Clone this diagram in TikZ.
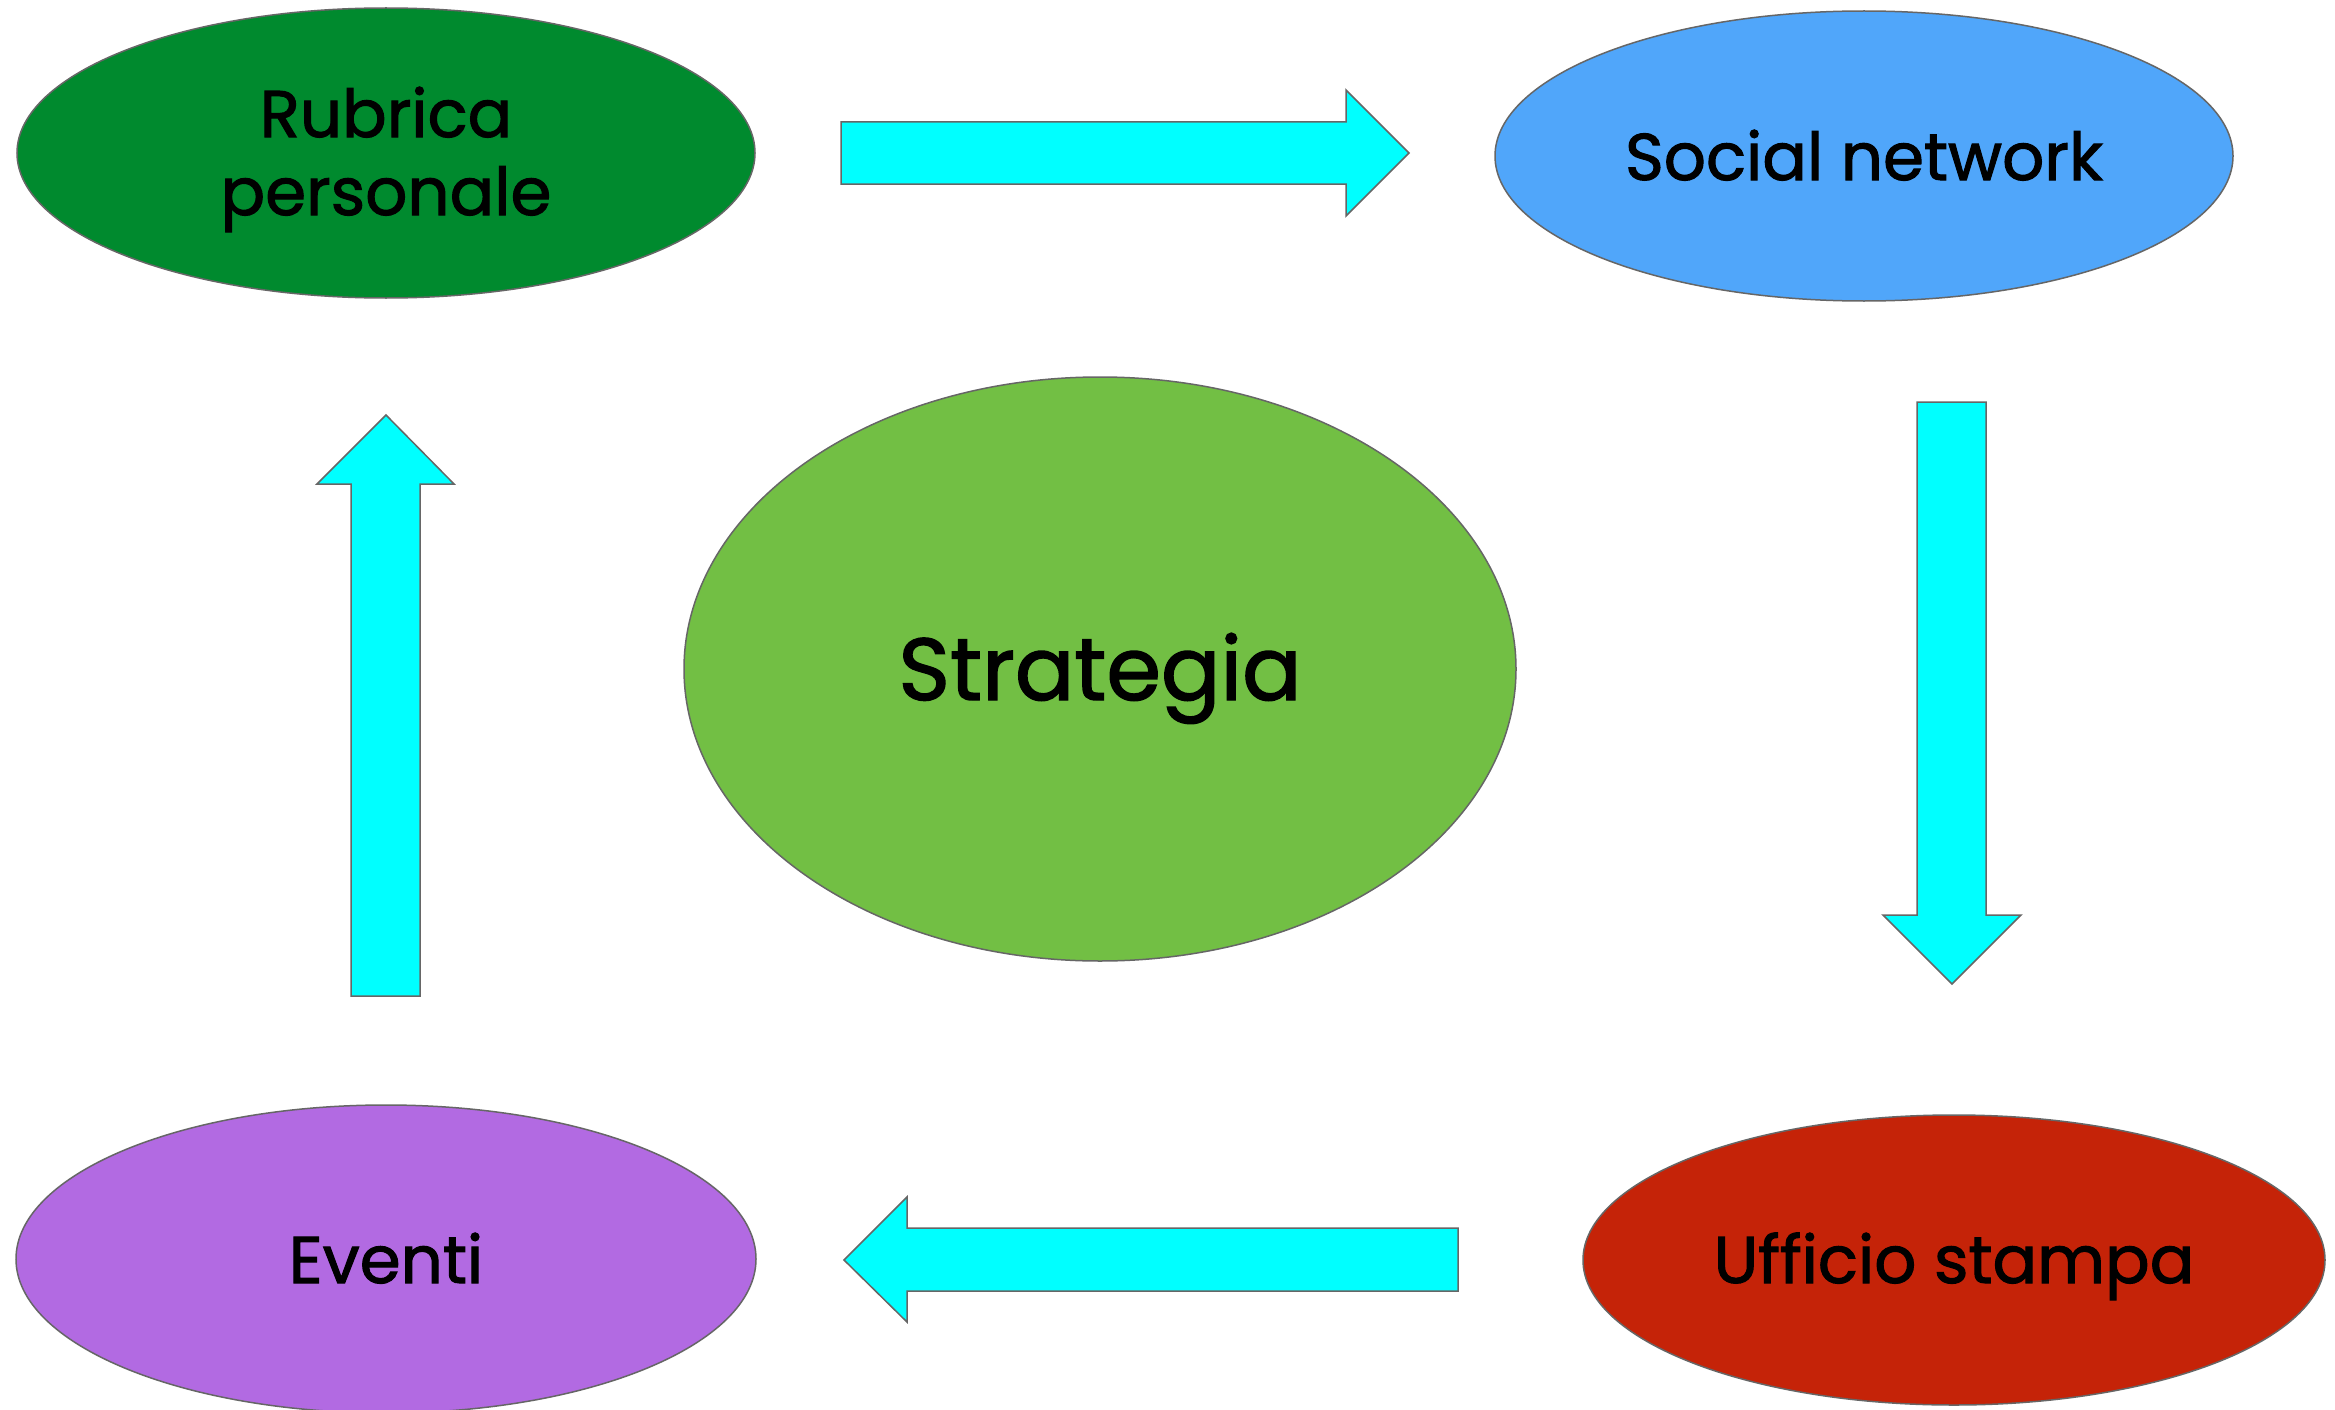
\documentclass[tikz,border=0pt]{standalone}
\usepackage{fontspec}
\setmainfont{Poppins}[FakeBold=1.6]
\usetikzlibrary{shapes.geometric}
\definecolor{cgreen}{RGB}{0,138,46}
\definecolor{cblue}{RGB}{80,166,250}
\definecolor{clime}{RGB}{114,191,68}
\definecolor{cpurple}{RGB}{178,106,226}
\definecolor{cred}{RGB}{197,35,8}
\definecolor{cline}{RGB}{102,102,102}
\definecolor{ccyan}{RGB}{0,255,255}
\tikzset{
  blob/.style={ellipse, draw=cline, line width=1.5pt, inner sep=0pt},
  lbl/.style={anchor=base, font=\fontsize{66}{78}\selectfont, align=center, inner sep=0pt},
  barrow/.style={fill=ccyan, draw=cline, line width=1.5pt, line join=miter}
}
\begin{document}
\begin{tikzpicture}[x=1pt,y=-1pt]
\useasboundingbox (0,0) rectangle (2335,1410);
\fill[white] (0,0) rectangle (2335,1410);
% ellipses
\node[blob, fill=cgreen, minimum width=738pt, minimum height=290pt] (rub) at (386,153) {};
\node[blob, fill=cblue, minimum width=738pt, minimum height=290pt] (soc) at (1864,156) {};
\node[blob, fill=clime, minimum width=832pt, minimum height=584pt] (str) at (1100,669) {};
\node[blob, fill=cpurple, minimum width=740pt, minimum height=308pt] (eve) at (386,1259) {};
\node[blob, fill=cred, minimum width=742pt, minimum height=290pt] (uff) at (1954,1260) {};
% labels
\node[lbl] (trub) at (386,215) {Rubrica\\personale};
\node[lbl] (tsoc) at (1864,180) {Social network};
\node[lbl, font=\fontsize{88}{100}\selectfont] (tstr) at (1100,700) {Strategia};
\node[lbl] (teve) at (386,1283) {Eventi};
\node[lbl] (tuff) at (1954,1283) {Ufficio stampa};
% block arrows
\draw[barrow] (841,122) -- (1346,122) -- (1346,90) -- (1409,153) -- (1346,216) -- (1346,184) -- (841,184) -- cycle;
\draw[barrow] (1917,402) -- (1986,402) -- (1986,915) -- (2021,915) -- (1952,984) -- (1883,915) -- (1917,915) -- cycle;
\draw[barrow] (1458,1228) -- (907,1228) -- (907,1197) -- (844,1260) -- (907,1322) -- (907,1291) -- (1458,1291) -- cycle;
\draw[barrow] (351,996) -- (351,484) -- (317,484) -- (386,415) -- (454,484) -- (420,484) -- (420,996) -- cycle;
\end{tikzpicture}
\end{document}
